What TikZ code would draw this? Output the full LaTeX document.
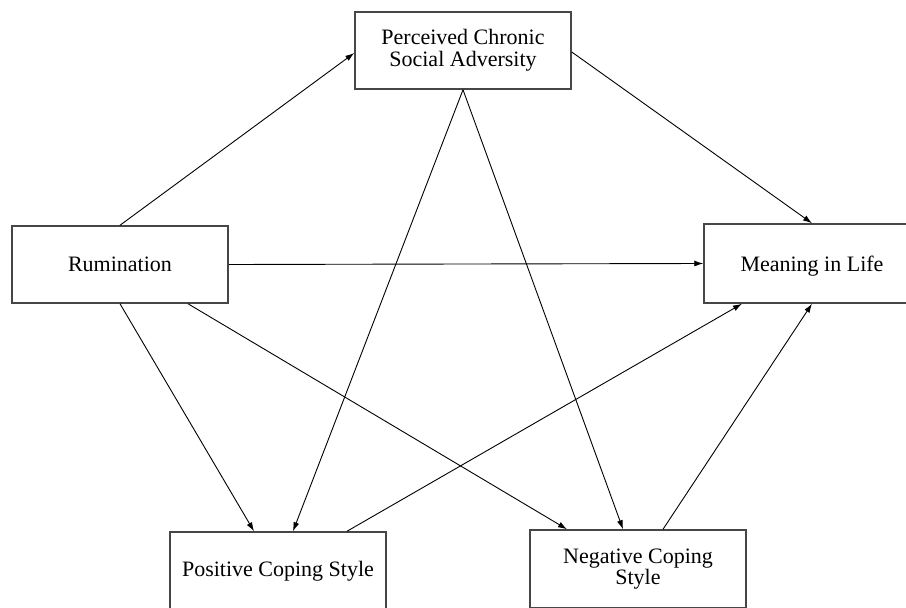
\documentclass[tikz,border=0pt]{standalone}
\usepackage{fontspec}
\setmainfont{Liberation Serif}
\usetikzlibrary{arrows.meta,calc}
\definecolor{boxline}{RGB}{70,70,70}
\begin{document}
\begin{tikzpicture}[x=1pt,y=-1pt,
  box/.style={draw=boxline,line width=1.5pt,fill=white,inner sep=0pt,
    minimum width=216pt,align=center,
    font=\fontsize{22}{21.7}\selectfont},
  conn/.style={draw=black,line width=0.9pt,-{Latex[length=9pt,width=6pt]}}]
\useasboundingbox (0,0) rectangle (906,608);
\clip (0,0) rectangle (906,608);
\fill[white] (0,0) rectangle (906,608);
\node[box,minimum height=77pt] (pcsa) at (463,50.5) {Perceived Chronic\\Social Adversity};
\node[box,minimum height=77pt] (rum) at (120,264.5) {Rumination};
\node[box,minimum height=79pt,text depth=0pt] (mil) at (812,263.5) {Meaning in Life};
\node[box,minimum height=79pt] (pos) at (278,571.5) {Positive Coping Style};
\node[box,minimum height=78pt] (neg) at (638,569) {Negative Coping\\Style};
\draw[conn] (rum.north) -- ($(pcsa.west)+(0,2.5)$);
\draw[conn] ($(pcsa.east)+(0,1.5)$) -- (mil.north);
\draw[conn] (rum.east) -- (mil.west);
\draw[conn] (pcsa.south) -- ($(pos.north)+(15,0)$);
\draw[conn] (pcsa.south) -- ($(neg.north)+(-15,0)$);
\draw[conn] (rum.south) -- ($(pos.north)+(-24,0)$);
\draw[conn] ($(rum.south)+(68,0)$) -- ($(neg.north)+(-71,0)$);
\draw[conn] ($(pos.north)+(69,0)$) -- ($(mil.south)+(-70,0)$);
\draw[conn] ($(neg.north)+(25,0)$) -- (mil.south);
\end{tikzpicture}
\end{document}
